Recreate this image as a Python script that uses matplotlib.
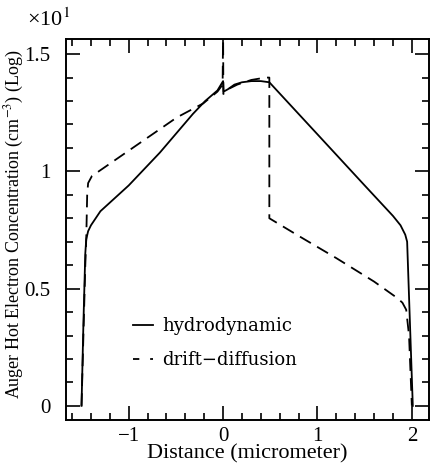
import numpy as np
import matplotlib
matplotlib.use("Agg")
import matplotlib.pyplot as plt
from matplotlib.lines import Line2D
from matplotlib.ticker import MultipleLocator, FixedLocator, FixedFormatter

# hydrodynamic (solid)
hydro_x = [-1.50, -1.48, -1.46, -1.45, -1.43, -1.40, -1.35, -1.30, -1.00, -0.67,
           -0.32, -0.19, -0.06, 0.00, 0.005, 0.05, 0.12, 0.20, 0.30, 0.40, 0.49,
           1.00, 1.50, 1.80, 1.88, 1.93, 1.95, 2.01]
hydro_y = [0.00, 0.35, 0.65, 0.71, 0.745, 0.77, 0.80, 0.83, 0.94, 1.08,
           1.245, 1.30, 1.345, 1.385, 1.34, 1.35, 1.37, 1.38, 1.385, 1.385, 1.38,
           1.158, 0.94, 0.81, 0.77, 0.73, 0.70, 0.00]

# drift-diffusion (dashed)
drift_x = [-1.50, -1.46, -1.45, -1.44, -1.43, -1.39, -0.85, -0.49, -0.21, -0.06,
           -0.005, 0.0, 0.003, 0.05, 0.15, 0.30, 0.45, 0.49, 0.49, 0.80, 1.20,
           1.60, 1.845, 1.90, 1.94, 1.97, 2.00]
drift_y = [0.00, 0.60, 0.71, 0.90, 0.95, 0.98, 1.13, 1.23, 1.29, 1.34,
           1.37, 1.60, 1.33, 1.35, 1.37, 1.39, 1.40, 1.40, 0.80, 0.725, 0.63,
           0.53, 0.46, 0.44, 0.41, 0.30, 0.00]

y_ticks = [0, 0.5, 1, 1.5]
y_labels = ['0', '0.5', '1', '1.5']
x_ticks = [-1, 0, 1, 2]
x_labels = ['\u22121', '0', '1', '2']

plt.rcParams['font.family'] = ['Liberation Serif', 'DejaVu Serif']
plt.rcParams['mathtext.fontset'] = 'stix'

fig = plt.figure(figsize=(4.31, 4.63), dpi=100)
ax = fig.add_axes([0.153, 0.093, 0.842, 0.823])

ax.plot(hydro_x, hydro_y, color='black', lw=1.3)
ax.plot(drift_x, drift_y, color='black', lw=1.3, ls=(0, (7, 4)))

ax.set_xlim(-1.665, 2.18)
ax.set_ylim(-0.06, 1.565)

ax.xaxis.set_major_locator(FixedLocator(x_ticks))
ax.xaxis.set_major_formatter(FixedFormatter(x_labels))
ax.xaxis.set_minor_locator(MultipleLocator(0.2))
ax.yaxis.set_major_locator(FixedLocator(y_ticks))
ax.yaxis.set_major_formatter(FixedFormatter(y_labels))
ax.yaxis.set_minor_locator(MultipleLocator(0.1))

ax.tick_params(which='both', direction='in', top=True, right=True, labelsize=15, width=1.2)
ax.tick_params(which='major', length=10)
ax.tick_params(which='minor', length=5)
ax.tick_params(axis='y', pad=11)
ax.tick_params(axis='x', pad=5)
for s in ax.spines.values():
    s.set_linewidth(1.4)

ax.set_xlabel('Distance (micrometer)', fontsize=16, labelpad=-1)
ax.set_ylabel('Auger Hot Electron Concentration (cm$^{-3}$) (Log)', fontsize=13)
ax.yaxis.set_label_coords(-0.11, 0.515)
fig.text(0.063, 0.957, '\u00d710$^{1}$', fontsize=16, va='center')

handles = [Line2D([], [], color='black', lw=1.3),
           Line2D([], [], color='black', lw=1.3, ls=(0, (3.5, 6)))]
ax.legend(handles, ['hydrodynamic', 'drift\u2212diffusion'], loc='lower left',
          bbox_to_anchor=(0.14, 0.09), frameon=False, prop={'family': 'DejaVu Serif', 'size': 13},
          handlelength=1.1, handletextpad=0.5, labelspacing=0.9)

fig.savefig('out.png', dpi=100)
